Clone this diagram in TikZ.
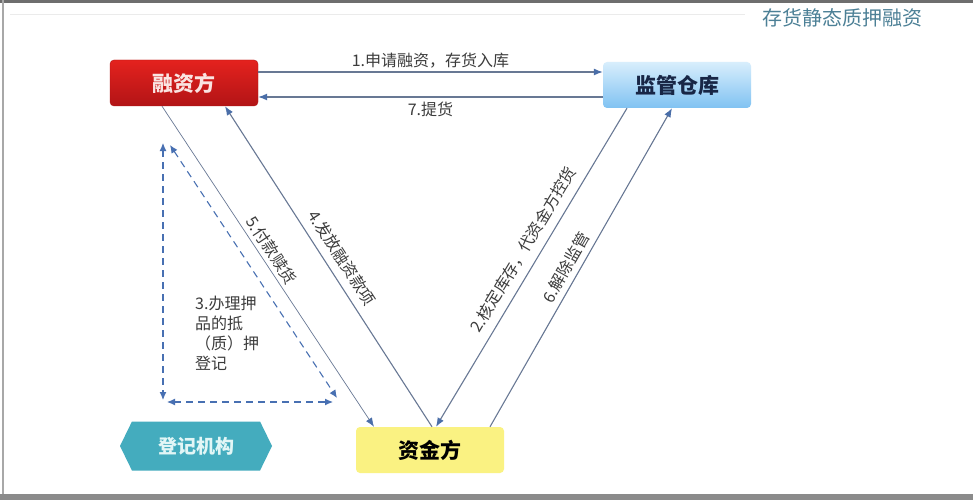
\documentclass[tikz,border=0pt]{standalone}
\usepackage{fontspec}
\setmainfont{Noto Sans CJK SC}
\usetikzlibrary{arrows.meta,shapes.symbols}
\definecolor{finredA}{RGB}{228,34,30}
\definecolor{finredB}{RGB}{178,20,22}
\definecolor{finwhite}{RGB}{250,228,226}
\definecolor{whblueA}{RGB}{216,238,252}
\definecolor{whblueB}{RGB}{128,194,242}
\definecolor{whnavy}{RGB}{24,38,70}
\definecolor{capyellow}{RGB}{250,242,130}
\definecolor{regteal}{RGB}{68,172,190}
\definecolor{regtext}{RGB}{226,246,246}
\definecolor{linegray}{RGB}{104,120,148}
\definecolor{tipblue}{RGB}{74,110,168}
\definecolor{dashblue}{RGB}{72,112,178}
\definecolor{labgray}{RGB}{60,60,60}
\definecolor{titleteal}{RGB}{76,128,150}
\definecolor{framegray}{RGB}{110,110,110}

\begin{document}
\begin{tikzpicture}[x=1pt, y=-1pt,
  font=\fontsize{16}{20}\selectfont,
  box/.style={rounded corners=4pt, minimum width=148pt, minimum height=46pt,
              inner sep=0pt, font=\fontsize{21}{24}\selectfont\bfseries},
  hexa/.style={shape=signal, signal to=west and east, signal pointer angle=128,
               fill=regteal, text=regtext, minimum width=152pt, minimum height=49pt,
               inner sep=0pt, font=\fontsize{19}{22}\selectfont\bfseries},
  lab/.style={font=\fontsize{16}{20}\selectfont, text=labgray, inner sep=2pt},
  ttl/.style={font=\fontsize{20}{22}\selectfont, text=titleteal},
  arr/.style={-{Latex[length=9pt, width=7pt, color=tipblue]}, line width=1.1pt, draw=linegray},
  darr/.style={{Latex[length=8pt, width=7pt, color=dashblue]}-{Latex[length=8pt, width=7pt, color=dashblue]},
               dash pattern=on 7pt off 5pt, line width=1.1pt, draw=dashblue}]
% page frame
\useasboundingbox (0,0) rectangle (973,500);
\fill[white] (0,0) rectangle (973,500);
\fill[framegray] (0,0) rectangle (973,3);
\fill[framegray!80] (0,494) rectangle (973,500);
\draw[framegray!60, line width=1.5pt] (3,0) -- (3,494);
\draw[black!8, line width=1pt] (10,15) -- (745,15);
\node[ttl] (title) at (842,18) {存货静态质押融资};

% parties
\node[box, top color=finredA, bottom color=finredB, draw=finredB, text=finwhite] (fin) at (184,83) {融资方};
\node[box, top color=whblueA, bottom color=whblueB, text=whnavy] (wh) at (677,85) {监管仓库};
\node[box, fill=capyellow, text=black] (cap) at (430,450) {资金方};
\node[hexa] (reg) at (196,446) {登记机构};

% flows
\draw[arr] ([yshift=11pt]fin.east) -- node[lab, above=1pt]{1.申请融资，存货入库} ([yshift=11pt]fin.east -| wh.west);
\draw[arr] ([yshift=-12pt]wh.west) -- node[lab, below=2pt]{7.提货} ([yshift=-12pt]wh.west -| fin.east);
\draw[arr, line width=0.7pt] ([xshift=-22pt]fin.south) -- node[lab, sloped, above=2pt, pos=0.47]{5.付款赎货} ([xshift=-56pt]cap.north);
\draw[arr] ([xshift=2pt]cap.north) -- node[lab, sloped, above=6pt, pos=0.5]{4.发放融资款项} ([xshift=41pt]fin.south);
\draw[arr] ([xshift=-50pt]wh.south) -- node[lab, sloped, above=6pt, pos=0.47]{2.核定库存，代资金方控货} ([xshift=6pt]cap.north);
\draw[arr] ([xshift=60pt]cap.north) -- node[lab, sloped, above=3pt, pos=0.48]{6.解除监管} ([xshift=-5pt]wh.south);

% registration triangle
\coordinate (regTL) at (163,143);
\coordinate (regBL) at (163,402);
\coordinate (regBR) at (337,402);
\draw[darr] (regTL) -- ([yshift=2pt]regBL);
\draw[darr] ([xshift=4pt]regBL) -- ([xshift=-4pt]regBR);
\draw[darr] ([xshift=7pt, yshift=-2pt]regTL) -- ([yshift=4pt]regBR);
\node[lab, align=left, anchor=north west] (note) at (193,294) {3.办理押\\品的抵\\（质）押\\登记};
\end{tikzpicture}
\end{document}
